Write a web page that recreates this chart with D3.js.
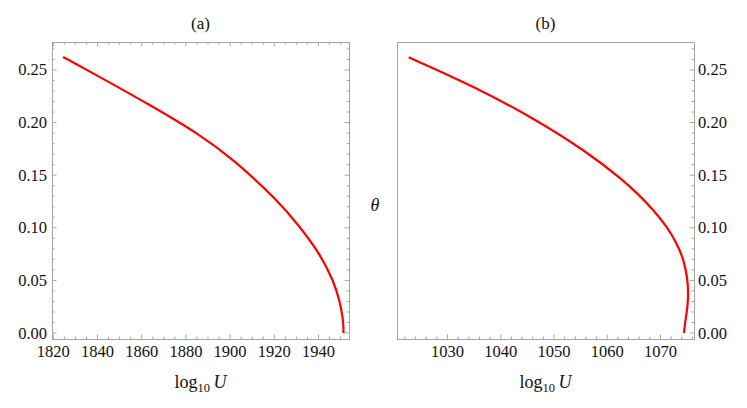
<!DOCTYPE html>
<html><head><meta charset="utf-8">
<script src="https://cdn.jsdelivr.net/npm/d3@7"></script>
<style>body{margin:0;background:#fff}svg{display:block}</style>
</head><body><svg id="c" width="747" height="408"></svg>
<script>
// Data
const uA = [1824.4,1841.1,1863.8,1886.4,1901.4,1921.1,1931.6,1940.7,1946.7,1949.7,1951.0,1951.3,1951.3];
const thA = [0.2624,0.2433,0.2167,0.1885,0.1650,0.1270,0.1010,0.0750,0.0500,0.0300,0.0140,0.006,0.0];
const uB = [1022.7,1034.3,1046.8,1056.2,1062.8,1065.6,1068.7,1071.2,1073.1,1074.4,1075.0,1075.25,1075.1,1074.7,1074.4];
const thB = [0.262,0.236,0.2025,0.172,0.146,0.133,0.117,0.101,0.085,0.069,0.0535,0.040,0.025,0.0124,0.0];
const xTicksA = [1820,1840,1860,1880,1900,1920,1940];
const xTicksB = [1030,1040,1050,1060,1070];
const yTicks = [0,0.05,0.10,0.15,0.20,0.25];
const titles = ["(a)","(b)"];

const FONT = '"Liberation Serif", "Times New Roman", serif';
const svg = d3.select("#c");
const frameCol = "#a6a6a6";
const fTop = 42, fBottom = 339;
const y = d3.scaleLinear().domain([-0.0057,0.2766]).range([fBottom, fTop]);

function txt(sel){ return sel.style("font-family", FONT).attr("fill","#111"); }

function panel(opts){
  const {x, xTicks, xMinorStep, data, title, left, right, ticksLeft, ticksTop, labelsLeft} = opts;
  const g = svg.append("g");
  const [d0,d1] = x.domain();
  const xMinor = d3.range(Math.ceil(d0/xMinorStep)*xMinorStep, d1, xMinorStep).filter(v=>!xTicks.some(t=>Math.abs(t-v)<1e-6));
  const yMinor = d3.range(0,0.28,0.01).filter(v=>y(v)>=fTop && !yTicks.some(t=>Math.abs(t-v)<1e-6));
  const tl = g.append("g").attr("stroke",frameCol).attr("stroke-width",1);
  const sides = [[fBottom,-1,true],[fTop,1,ticksTop]];
  sides.forEach(([yy,dir,on])=>{ if(!on) return;
    xTicks.forEach(v=>tl.append("line").attr("x1",x(v)).attr("x2",x(v)).attr("y1",yy).attr("y2",yy+dir*4.5));
    xMinor.forEach(v=>tl.append("line").attr("x1",x(v)).attr("x2",x(v)).attr("y1",yy).attr("y2",yy+dir*2.5));
  });
  const vs = [[left,1,ticksLeft],[right,-1,true]];
  vs.forEach(([xx,dir,on])=>{ if(!on) return;
    yTicks.forEach(v=>tl.append("line").attr("y1",y(v)).attr("y2",y(v)).attr("x1",xx).attr("x2",xx+dir*4.5));
    yMinor.forEach(v=>tl.append("line").attr("y1",y(v)).attr("y2",y(v)).attr("x1",xx).attr("x2",xx+dir*2.5));
  });
  g.append("rect").attr("x",left+0.5).attr("y",fTop+0.5).attr("width",right-left).attr("height",fBottom-fTop)
    .attr("fill","none").attr("stroke",frameCol).attr("stroke-width",1);
  // x labels
  txt(g.selectAll(".xl").data(xTicks).join("text")).attr("x",d=>x(d)).attr("y",357)
    .attr("text-anchor","middle").attr("font-size",16.5).text(d3.format("d"));
  // y labels
  txt(g.selectAll(".yl").data(yTicks).join("text"))
    .attr("x", labelsLeft ? left-5 : right+4).attr("y",d=>y(d)+5.5)
    .attr("text-anchor", labelsLeft ? "end" : "start").attr("font-size",16.5).text(d3.format(".2f"));
  // curve
  const line = d3.line().x(d=>x(d[0])).y(d=>y(d[1])).curve(d3.curveBasis);
  g.append("path").datum(data).attr("d",line).attr("fill","none").attr("stroke","#f00").attr("stroke-width",2.2);
  // title
  const cx = (left+right)/2;
  txt(g.append("text")).attr("x",cx).attr("y",29).attr("text-anchor","middle").attr("font-size",17).text(title);
  const xl = txt(g.append("text")).attr("x",cx).attr("y",388).attr("text-anchor","middle").attr("font-size",18);
  xl.append("tspan").text("log");
  xl.append("tspan").attr("font-size",12.5).attr("dy",4).text("10");
  xl.append("tspan").attr("dy",-4).text("\u2009");
  xl.append("tspan").attr("font-style","italic").text("U");
}

const xA = d3.scaleLinear().domain([1819.4,1953.8]).range([52,349]);
const xB = d3.scaleLinear().domain([1020.5,1076.3]).range([397,694]);
panel({x:xA, xTicks:xTicksA, xMinorStep:5, data:uA.map((u,i)=>[u,thA[i]]), title:titles[0],
  left:52, right:349, ticksLeft:true, ticksTop:true, labelsLeft:true});
panel({x:xB, xTicks:xTicksB, xMinorStep:2, data:uB.map((u,i)=>[u,thB[i]]), title:titles[1],
  left:397, right:694, ticksLeft:false, ticksTop:false, labelsLeft:false});

txt(svg.append("text")).attr("x",375).attr("y",211).attr("text-anchor","middle").attr("font-size",18)
  .attr("font-style","italic").text("\u03b8");
</script></body></html>
